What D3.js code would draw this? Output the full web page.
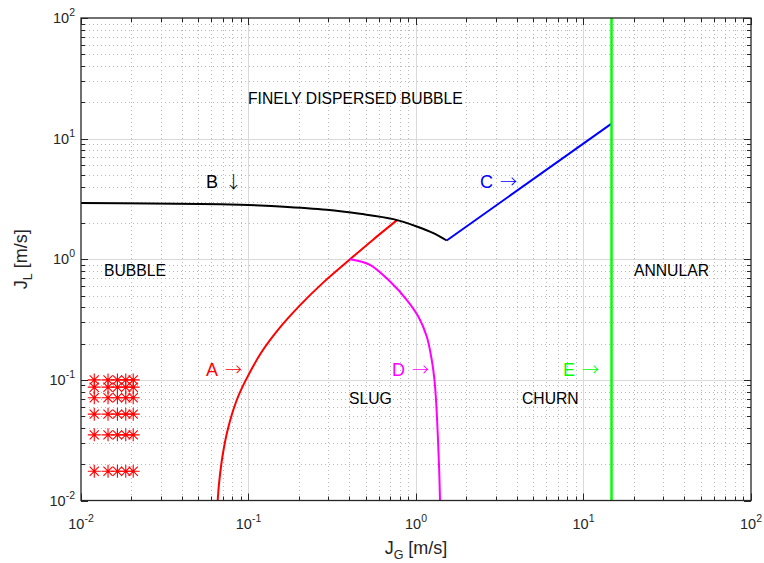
<!DOCTYPE html>
<html>
<head>
<meta charset="utf-8">
<script src="https://cdn.jsdelivr.net/npm/d3@7"></script>
<style>
  body { margin: 0; background: #fff; }
  text { font-family: "Liberation Sans", Arial, Helvetica, sans-serif; }
</style>
</head>
<body>
<script>
// decade ticks (exponents)
var xExp = [-2, -1, 0, 1, 2];
var yExp = [-2, -1, 0, 1, 2];

// A: bubble -> slug transition
var aJG = [0.0655, 0.066, 0.067, 0.07, 0.075, 0.085, 0.0965, 0.12, 0.15, 0.2, 0.28, 0.404, 0.55, 0.774];
var aJL = [0.01, 0.0117, 0.0147, 0.0235, 0.0383, 0.0678, 0.1, 0.171, 0.26, 0.407, 0.643, 1.0, 1.44, 2.12];

// B: dispersed bubble boundary
var bJG = [0.01, 0.0258, 0.0513, 0.0776, 0.117, 0.154, 0.293, 0.463, 0.732, 1.01, 1.27, 1.525];
var bJL = [2.92, 2.90, 2.87, 2.84, 2.79, 2.74, 2.57, 2.38, 2.15, 1.87, 1.645, 1.43];

// C: dispersed bubble -> churn/annular
var cJG = [1.525, 14.7];
var cJL = [1.43, 13.3];

// D: slug -> churn
var dJG = [0.404, 0.531, 0.700, 0.880, 1.032, 1.159, 1.241, 1.289, 1.322, 1.353, 1.377, 1.391];
var dJL = [1.0, 0.899, 0.653, 0.461, 0.335, 0.229, 0.147, 0.1, 0.0622, 0.0319, 0.017, 0.01];

// E: annular boundary
var eJG = [14.7, 14.7];
var eJL = [0.01, 100];

// experimental points
var ptJG = [0.012, 0.0145, 0.0165, 0.0185, 0.0205];
var ptJL = [0.1, 0.087, 0.071, 0.052, 0.035, 0.0175];

var W = 764, H = 563;
var pLeft = 81, pRight = 751, pTop = 18, pBottom = 500.5;

var svg = d3.select("body").append("svg")
  .attr("width", W)
  .attr("height", H);

var x = d3.scaleLog().domain([0.01, 100]).range([pLeft, pRight]);
var y = d3.scaleLog().domain([0.01, 100]).range([pBottom, pTop]);

var minors = [];
for (var e = -2; e < 2; e++) {
  for (var k = 2; k <= 9; k++) minors.push(k * Math.pow(10, e));
}
var majors = xExp.map(function(e) { return Math.pow(10, e); });

var grid = svg.append("g");
// minor grid, dotted
grid.selectAll(".mgx").data(minors).enter().append("line")
  .attr("x1", function(d) { return Math.round(x(d)) + 0.5; })
  .attr("x2", function(d) { return Math.round(x(d)) + 0.5; })
  .attr("y1", pTop).attr("y2", pBottom)
  .attr("stroke", "#b8b8b8").attr("stroke-width", 1)
  .attr("stroke-dasharray", "1,3");
grid.selectAll(".mgy").data(minors).enter().append("line")
  .attr("y1", function(d) { return Math.round(y(d)) + 0.5; })
  .attr("y2", function(d) { return Math.round(y(d)) + 0.5; })
  .attr("x1", pLeft).attr("x2", pRight)
  .attr("stroke", "#b8b8b8").attr("stroke-width", 1)
  .attr("stroke-dasharray", "1,3");
// major grid
grid.selectAll(".Mgx").data(majors.slice(1, -1)).enter().append("line")
  .attr("x1", function(d) { return Math.round(x(d)) + 0.5; })
  .attr("x2", function(d) { return Math.round(x(d)) + 0.5; })
  .attr("y1", pTop).attr("y2", pBottom)
  .attr("stroke", "#d9d9d9").attr("stroke-width", 1);
grid.selectAll(".Mgy").data(majors.slice(1, -1)).enter().append("line")
  .attr("y1", function(d) { return Math.round(y(d)) + 0.5; })
  .attr("y2", function(d) { return Math.round(y(d)) + 0.5; })
  .attr("x1", pLeft).attr("x2", pRight)
  .attr("stroke", "#d9d9d9").attr("stroke-width", 1);

// ticks, inward on all four sides
var ticks = svg.append("g").attr("stroke", "#262626").attr("stroke-width", 1);
var allT = majors.map(function(d) { return {v: d, len: 7}; })
  .concat(minors.map(function(d) { return {v: d, len: 4}; }));
allT.forEach(function(t) {
  var px = Math.round(x(t.v)) + 0.5, py = Math.round(y(t.v)) + 0.5;
  ticks.append("line").attr("x1", px).attr("x2", px).attr("y1", pBottom).attr("y2", pBottom - t.len);
  ticks.append("line").attr("x1", px).attr("x2", px).attr("y1", pTop).attr("y2", pTop + t.len);
  ticks.append("line").attr("y1", py).attr("y2", py).attr("x1", pLeft).attr("x2", pLeft + t.len);
  ticks.append("line").attr("y1", py).attr("y2", py).attr("x1", pRight).attr("x2", pRight - t.len);
});

function zip(a, b) { return a.map(function(v, i) { return [v, b[i]]; }); }

var lineCR = d3.line()
  .x(function(d) { return x(d[0]); })
  .y(function(d) { return y(d[1]); })
  .curve(d3.curveCatmullRom.alpha(0.5));
var lineStraight = d3.line()
  .x(function(d) { return x(d[0]); })
  .y(function(d) { return y(d[1]); });

var plot = svg.append("g");
plot.append("path").attr("d", lineCR(zip(aJG, aJL)))
  .attr("fill", "none").attr("stroke", "#ff0000").attr("stroke-width", 2);
plot.append("path").attr("d", lineCR(zip(bJG, bJL)))
  .attr("fill", "none").attr("stroke", "#000000").attr("stroke-width", 2);
plot.append("path").attr("d", lineStraight(zip(cJG, cJL)))
  .attr("fill", "none").attr("stroke", "#0000ff").attr("stroke-width", 2);
plot.append("path").attr("d", lineCR(zip(dJG, dJL)))
  .attr("fill", "none").attr("stroke", "#ff00ff").attr("stroke-width", 2);
plot.append("path").attr("d", lineStraight(zip(eJG, eJL)))
  .attr("fill", "none").attr("stroke", "#00ff00").attr("stroke-width", 2.5);

// asterisk markers
var pts = [];
ptJL.forEach(function(jl) { ptJG.forEach(function(jg) { pts.push([jg, jl]); }); });
plot.selectAll(".star").data(pts).enter().append("path")
  .attr("transform", function(d) { return "translate(" + x(d[0]) + "," + y(d[1]) + ")"; })
  .attr("d", "M-6.5,0H6.5M0,-6.5V6.5M-4.6,-4.6L4.6,4.6M-4.6,4.6L4.6,-4.6")
  .attr("fill", "none").attr("stroke", "#ff0000").attr("stroke-width", 1.1);

// axis box
svg.append("rect")
  .attr("x", pLeft).attr("y", pTop)
  .attr("width", pRight - pLeft).attr("height", pBottom - pTop)
  .attr("fill", "none").attr("stroke", "#262626").attr("stroke-width", 1.3);

// tick labels
xExp.forEach(function(e) {
  var t = svg.append("text").attr("x", x(Math.pow(10, e))).attr("y", 529)
    .attr("text-anchor", "middle").attr("fill", "#262626").attr("font-size", 14.5);
  t.append("tspan").text("10");
  t.append("tspan").attr("dy", -7).attr("font-size", 10.5).text(e);
});
yExp.forEach(function(e) {
  var t = svg.append("text").attr("x", 75).attr("y", y(Math.pow(10, e)) + 5)
    .attr("text-anchor", "end").attr("fill", "#262626").attr("font-size", 14.5);
  t.append("tspan").text("10");
  t.append("tspan").attr("dy", -7).attr("font-size", 10.5).text(e);
});

// axis titles
var xt = svg.append("text").attr("x", 416).attr("y", 554)
  .attr("text-anchor", "middle").attr("fill", "#262626").attr("font-size", 18);
xt.append("tspan").text("J");
xt.append("tspan").attr("dy", 5).attr("font-size", 12.5).text("G");
xt.append("tspan").attr("dy", -5).text(" [m/s]");

var yt = svg.append("text")
  .attr("transform", "translate(27," + y(1) + ") rotate(-90)")
  .attr("text-anchor", "middle").attr("fill", "#262626").attr("font-size", 18);
yt.append("tspan").text("J");
yt.append("tspan").attr("dy", 5).attr("font-size", 12.5).text("L");
yt.append("tspan").attr("dy", -5).text(" [m/s]");

// region labels
var regions = [
  ["FINELY DISPERSED BUBBLE", 248, 104],
  ["BUBBLE", 104, 276],
  ["ANNULAR", 634, 276],
  ["SLUG", 349, 404],
  ["CHURN", 522, 404]
];
regions.forEach(function(r) {
  svg.append("text").attr("x", r[1]).attr("y", r[2])
    .attr("font-size", 15.7).attr("fill", "#000").text(r[0]);
});

// curve labels
var curveLabels = [
  ["A", "\u2192", 206, 376, "#ff0000"],
  ["B", "\u2193", 206, 188, "#000000"],
  ["C", "\u2192", 480, 188, "#0000ff"],
  ["D", "\u2192", 392, 376, "#ff00ff"],
  ["E", "\u2192", 563, 376, "#00ff00"]
];
curveLabels.forEach(function(c) {
  var t = svg.append("text").attr("x", c[2]).attr("y", c[3])
    .attr("font-size", 18).attr("fill", c[4]);
  t.append("tspan").text(c[0]);
  t.append("tspan").attr("font-family", "Noto Sans CJK JP").attr("font-weight", 300)
    .attr("font-size", 17).attr("dx", 7).text(c[1]);
});
</script>
</body>
</html>
